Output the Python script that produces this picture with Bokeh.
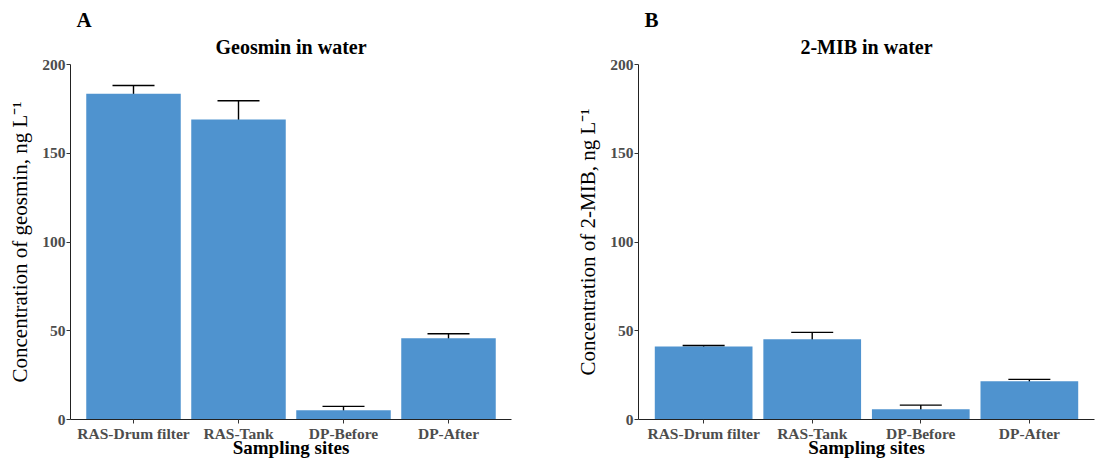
from bokeh.plotting import figure
from bokeh.layouts import row
from bokeh.models import ColumnDataSource, Whisker, TeeHead, FixedTicker, Range1d, Title
from bokeh.embed import file_html
from bokeh.resources import INLINE

sites = ["RAS-Drum filter", "RAS-Tank", "DP-Before", "DP-After"]
geosmin_mean = [183.5, 169.0, 5.2, 45.8]
geosmin_lower = [179.2, 158.3, 2.8, 43.6]
geosmin_upper = [188.2, 179.6, 7.4, 48.3]
mib_mean = [41.1, 45.2, 5.8, 21.5]
mib_lower = [40.6, 41.7, 3.6, 20.1]
mib_upper = [41.7, 49.1, 8.1, 22.6]

FONT = "Liberation Serif"
BAR = "#4F93CF"


def panel(letter, title, ylabel, mean, lower, upper, width, left, right):
    xs = list(range(1, len(sites) + 1))
    src = ColumnDataSource(dict(x=xs, top=mean, lower=lower, upper=upper))
    p = figure(width=width, height=459, output_backend="svg", toolbar_location=None,
               title=None,
               x_range=Range1d(0.4, 4.6), y_range=Range1d(0, 200),
               min_border_left=left, min_border_right=right,
               min_border_top=64, min_border_bottom=40)
    p.vbar(x="x", top="top", width=0.9, bottom=0, source=src, fill_color=BAR, line_color=None)
    w = Whisker(base="x", lower="lower", upper="upper", source=src,
                line_color="black", line_width=1.4,
                upper_head=TeeHead(size=42, line_color="black", line_width=1.4),
                lower_head=TeeHead(size=42, line_color="black", line_width=1.4))
    p.add_layout(w)
    p.add_layout(Title(text=title, align="center", text_font=FONT, text_font_size="20px",
                       text_font_style="bold", text_color="black", standoff=13), "above")
    p.add_layout(Title(text=letter, align="left", text_font=FONT, text_font_size="21px",
                       text_font_style="bold", text_color="black", offset=6, standoff=-8), "above")
    p.add_layout(Title(text="Sampling sites", align="center", text_font=FONT,
                       text_font_size="19px", text_font_style="bold", text_color="black",
                       standoff=-20), "below")
    p.xgrid.visible = False
    p.ygrid.visible = False
    p.outline_line_color = None
    p.xaxis.ticker = FixedTicker(ticks=xs)
    p.xaxis.major_label_overrides = {i: s for i, s in zip(xs, sites)}
    p.yaxis.ticker = FixedTicker(ticks=[0, 50, 100, 150, 200])
    for ax in (p.xaxis, p.yaxis):
        ax.major_label_text_font = FONT
        ax.major_label_text_font_size = "15.5px"
        ax.major_label_text_font_style = "bold"
        ax.major_label_text_color = "#4D4D4D"
        ax.axis_label_text_font = FONT
        ax.axis_label_text_color = "black"
        ax.minor_tick_line_color = None
        ax.major_tick_in = 0
        ax.major_tick_out = 4
        ax.axis_line_color = "#222222"
        ax.major_tick_line_color = "#333333"
        ax.major_label_standoff = 1
    p.yaxis.axis_label = ylabel
    p.yaxis.axis_label_text_font_size = "21px"
    p.yaxis.axis_label_text_font_style = "normal"
    p.yaxis.axis_label_standoff = 7
    return p


pa = panel("A", "Geosmin in water", "Concentration of geosmin, ng L\u207B\u00B9",
           geosmin_mean, geosmin_lower, geosmin_upper, 560, 70, 49)
pb = panel("B", "2-MIB in water", "Concentration of 2-MIB, ng L\u207B\u00B9",
           mib_mean, mib_lower, mib_upper, 544, 78, 10)

layout = row(pa, pb)
open("out.html", "w").write(file_html(layout, INLINE))
